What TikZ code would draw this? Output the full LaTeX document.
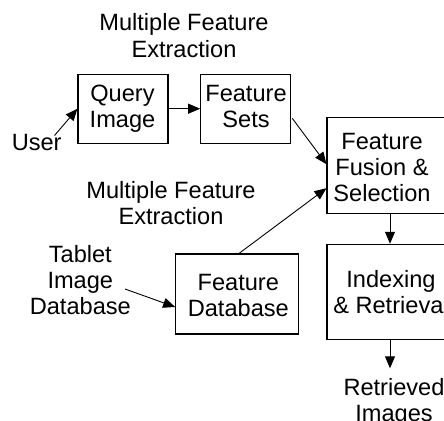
\documentclass[tikz,border=0pt]{standalone}
\usepackage{fontspec}
\setmainfont{Liberation Sans}
\usetikzlibrary{arrows.meta,calc}
\begin{document}
\begin{tikzpicture}[x=1pt,y=1pt,
  box/.style={draw, line width=1.1pt, inner sep=0pt, anchor=center},
  txt/.style={font=\fontsize{23.6pt}{26pt}\selectfont, align=center, anchor=base, inner sep=0pt},
  arr/.style={line width=0.9pt, -{Triangle[length=12pt,width=10pt]}}]
\useasboundingbox (0,0) rectangle (444,-420);
% boxes
\node[box, minimum width=90pt, minimum height=69.3pt] (query) at (123,-108.7) {};
\node[box, minimum width=90pt, minimum height=69.3pt] (fsets) at (245.7,-108.7) {};
\node[box, minimum width=126pt, minimum height=95.7pt] (fusion) at (390,-165.2) {};
\node[box, minimum width=126pt, minimum height=95pt] (indexing) at (390,-291.8) {};
\node[box, minimum width=122.6pt, minimum height=80pt] (fdb) at (237,-294) {};
% texts (anchor = baseline of last line)
\node[txt] (title1) at (184,-57) {Multiple Feature\\Extraction};
\node[txt] (title2) at (171,-224.8) {Multiple Feature\\Extraction};
\node[txt] (user) at (36.7,-150) {User};
\node[txt] (qtext) at (122.5,-127.3) {Query\\Image};
\node[txt] (ftext) at (246,-127.3) {Feature\\Sets};
\node[txt] (fusiontext) at (382,-201.5) {Feature\\Fusion \&\\Selection};
\node[txt] (idxtext) at (391,-313.5) {Indexing\\\& Retrieval};
\node[txt] (fdbtext) at (238.3,-316.5) {Feature\\Database};
\node[txt] (tablet) at (80.3,-314) {Tablet\\Image\\Database};
\node[txt] (retrieved) at (394,-421.5) {Retrieved\\Images};
% connector ends
\coordinate (u1) at (54.5,-135.5);
\coordinate (t1) at (125,-289);
\coordinate (r1) at (390,-368.3);
% connectors
\draw[arr] (u1) -- (query.west);
\draw[arr] (query.east) -- (fsets.west);
\draw[arr] ($(fsets.east)+(1,-9.6)$) -- ($(fusion.west)+(0,1)$);
\draw[arr] ($(fdb.north)+(2,0)$) -- ($(fusion.west)+(0,-23)$);
\draw[arr] (t1) -- ($(fdb.west)+(0,-13)$);
\draw[arr] (fusion.south) -- (indexing.north);
\draw[arr] (indexing.south) -- (r1);
\end{tikzpicture}
\end{document}
